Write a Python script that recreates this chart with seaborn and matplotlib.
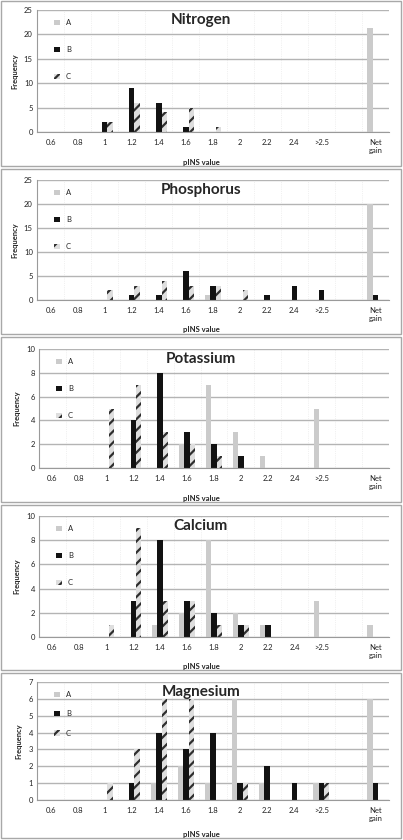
import numpy as np
import pandas as pd
import matplotlib
matplotlib.use("Agg")
import matplotlib.pyplot as plt
from matplotlib.patches import Rectangle
import seaborn as sns

sns.set_style("white")
plt.rcParams['font.family'] = ['Lato', 'DejaVu Sans']
plt.rcParams['hatch.linewidth'] = 1.6

# pINS classes (the blank slot sits between ">2.5" and "Net gain")
categories = ["0.6", "0.8", "1", "1.2", "1.4", "1.6", "1.8", "2", "2.2", "2.4", ">2.5", " ", "Net gain"]
tick_labels = ["0.6", "0.8", "1", "1.2", "1.4", "1.6", "1.8", "2", "2.2", "2.4", ">2.5", "", "Net\ngain"]
series = ["A", "B", "C"]
nutrients = ["Nitrogen", "Phosphorus", "Potassium", "Calcium", "Magnesium"]

nitrogen_a = [0, 0, 0, 0, 0, 0, 0, 0, 0, 0, 0, 0, 21.3]
nitrogen_b = [0, 0, 2, 9, 6, 1, 0, 0, 0, 0, 0, 0, 0]
nitrogen_c = [0, 0, 2, 6, 4, 5, 1, 0, 0, 0, 0, 0, 0]

phosphorus_a = [0, 0, 0, 0, 0, 0, 1, 0, 0, 0, 0, 0, 20]
phosphorus_b = [0, 0, 0, 1, 1, 6, 3, 0, 1, 3, 2, 0, 1]
phosphorus_c = [0, 0, 2, 3, 4, 3, 3, 2, 0, 0, 0, 0, 0]

potassium_a = [0, 0, 0, 0, 0, 2, 7, 3, 1, 0, 5, 0, 0]
potassium_b = [0, 0, 0, 4, 8, 3, 2, 1, 0, 0, 0, 0, 0]
potassium_c = [0, 0, 5, 7, 3, 2, 1, 0, 0, 0, 0, 0, 0]

calcium_a = [0, 0, 0, 0, 1, 2, 8, 2, 1, 0, 3, 0, 1]
calcium_b = [0, 0, 0, 3, 8, 3, 2, 1, 1, 0, 0, 0, 0]
calcium_c = [0, 0, 1, 9, 3, 3, 1, 1, 0, 0, 0, 0, 0]

magnesium_a = [0, 0, 0, 0, 1, 2, 1, 6, 1, 0, 1, 0, 6]
magnesium_b = [0, 0, 0, 1, 4, 3, 4, 1, 2, 1, 1, 0, 1]
magnesium_c = [0, 0, 1, 3, 6, 6, 0, 1, 0, 0, 1, 0, 0]

panel_data = [
    (nitrogen_a, nitrogen_b, nitrogen_c),
    (phosphorus_a, phosphorus_b, phosphorus_c),
    (potassium_a, potassium_b, potassium_c),
    (calcium_a, calcium_b, calcium_c),
    (magnesium_a, magnesium_b, magnesium_c),
]
y_max = [25, 25, 10, 10, 7]
y_step = [5, 5, 2, 2, 1]

W, H = 403, 840
fig = plt.figure(figsize=(W / 100, H / 100), dpi=100)

# pixel layout of each panel: (panel top, axes top, axes bottom, axes left)
layout = [
    (0, 10, 132, 37),
    (168, 180, 300, 37),
    (336, 349, 468, 39),
    (504, 516, 637, 39),
    (672, 682, 800, 37),
]
leg_spacing = [2.6, 2.6, 2.6, 2.6, 1.6]
palette = {"A": "#cbcbcb", "B": "#121212", "C": "#dedede"}

for i, name in enumerate(nutrients):
    top, ax_top, ax_bot, ax_left = layout[i]
    ax_right = 389

    # panel frame
    fig.patches.append(Rectangle((1 / W, 1 - (top + 166) / H), 400 / W, 165 / H,
                                 transform=fig.transFigure, fill=False,
                                 edgecolor="#a8a8a8", linewidth=1.0))

    ax = fig.add_axes([ax_left / W, 1 - ax_bot / H, (ax_right - ax_left) / W, (ax_bot - ax_top) / H])

    a, b, c = panel_data[i]
    df = pd.DataFrame({
        "pINS": categories * 3,
        "series": ["A"] * 13 + ["B"] * 13 + ["C"] * 13,
        "freq": list(a) + list(b) + list(c),
    })
    sns.barplot(data=df, x="pINS", y="freq", hue="series", order=categories,
                hue_order=series, palette=palette, width=0.6, ax=ax,
                linewidth=0, saturation=1)

    for bar in ax.containers[2].patches:
        bar.set_hatch("///")
        bar.set_edgecolor("#2e2e2e")
        bar.set_linewidth(0)

    ax.set_ylim(0, y_max[i])
    ax.set_yticks(np.arange(0, y_max[i] + 0.1, y_step[i]))
    ax.set_xlim(-0.5, len(categories) - 0.5)
    ax.set_xticks(range(len(categories)))
    ax.set_xticklabels(tick_labels, fontsize=5.5, color="#222222")
    ax.tick_params(axis="y", labelsize=5.5, colors="#222222", length=2, width=0.6, pad=1)
    ax.tick_params(axis="x", length=0, pad=5)
    ax.set_xticks(np.arange(-0.5, len(categories), 1), minor=True)
    ax.tick_params(axis="x", which="minor", length=2, width=0.5, color="#bbbbbb")

    ax.yaxis.grid(True, color="#b4b4b4", linewidth=1.0)
    ax.xaxis.grid(True, which="minor", color="#e4e4e4", linewidth=0.5, linestyle=":")
    ax.set_axisbelow(True)
    for side in ["top", "right"]:
        ax.spines[side].set_visible(False)
    ax.spines["left"].set_color("#9a9a9a")
    ax.spines["bottom"].set_color("#9a9a9a")
    ax.spines["left"].set_linewidth(0.8)
    ax.spines["bottom"].set_linewidth(0.8)

    ax.set_xlabel("")
    ax.set_ylabel("Frequency", fontsize=5.5, fontweight="bold", labelpad=4)
    fig.text(0.5, 1 - (top + 162) / H, "pINS value", ha="center", va="center",
             fontsize=5.5, fontweight="bold")
    fig.text(0.498, 1 - (ax_top + 10) / H, name, ha="center", va="center",
             fontsize=11, fontweight="bold")

    handles = [ax.containers[k] for k in range(3)]
    leg = ax.legend(handles, series, loc="upper left", bbox_to_anchor=(0.03, 0.98),
                    frameon=False, fontsize=5.5, handlelength=0.7, handleheight=0.7,
                    handletextpad=0.8, labelspacing=leg_spacing[i])

fig.savefig("out.png", dpi=100)
